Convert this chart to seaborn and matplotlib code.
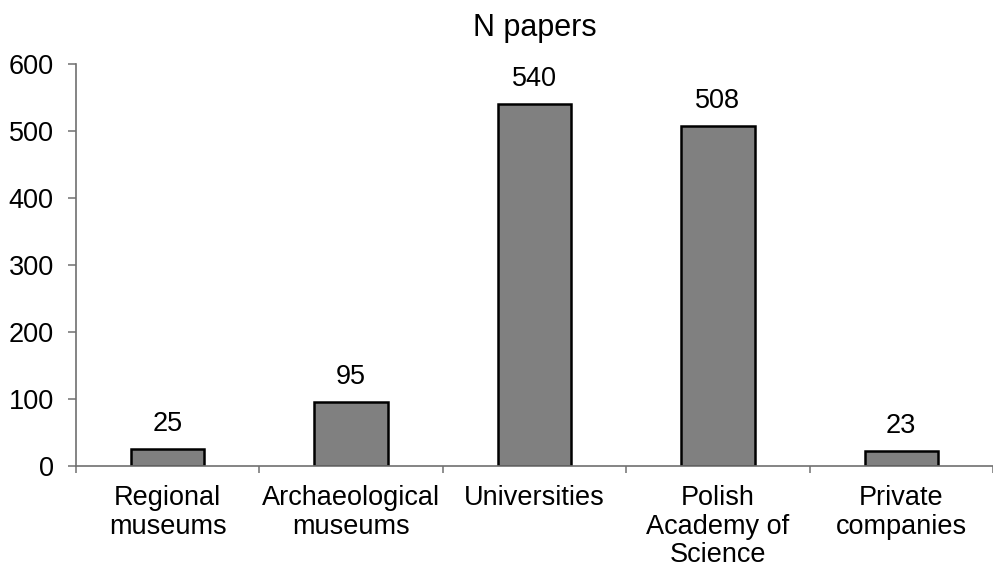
import matplotlib
matplotlib.use("Agg")
import matplotlib.pyplot as plt
import seaborn as sns
import pandas as pd
from matplotlib.ticker import FixedLocator, NullFormatter

categories = ["Regional\nmuseums", "Archaeological\nmuseums", "Universities",
              "Polish\nAcademy of\nScience", "Private\ncompanies"]
papers = [25, 95, 540, 508, 23]
y_ticks = [0, 100, 200, 300, 400, 500, 600]

sns.set_theme(style="white")
plt.rcParams["font.family"] = ["Liberation Sans", "DejaVu Sans"]

df = pd.DataFrame({"category": categories, "papers": papers})

fig = plt.figure(figsize=(9.93, 5.69), dpi=100)
ax = fig.add_axes([0.0765, 0.181, 0.9235, 0.7065])

sns.barplot(data=df, x="category", y="papers", ax=ax, color="#808080",
            saturation=1, width=0.40, edgecolor="black", linewidth=1.8)

for p, v in zip(ax.patches, papers):
    ax.text(p.get_x() + p.get_width() / 2, v + 18, f"{v}",
            ha="center", va="bottom", fontsize=19.5, color="black")

ax.set_ylim(0, 600)
ax.set_xlim(-0.5, len(categories) - 0.5)
ax.set_yticks(y_ticks)
ax.set_xlabel("")
ax.set_ylabel("")
ax.set_title("N papers", fontsize=22, pad=20, color="black")

for s in ["top", "right"]:
    ax.spines[s].set_visible(False)
for s in ["left", "bottom"]:
    ax.spines[s].set_color("#707070")
    ax.spines[s].set_linewidth(1.2)

ax.tick_params(axis="y", which="major", direction="out", length=6, width=1.1,
               color="#707070", labelsize=19.5, labelcolor="black", pad=10, left=True)
ax.tick_params(axis="x", which="major", length=0, labelsize=19.5,
               labelcolor="black", pad=13.5)
ax.xaxis.set_minor_locator(FixedLocator([i - 0.5 for i in range(len(categories) + 1)]))
ax.xaxis.set_minor_formatter(NullFormatter())
ax.tick_params(axis="x", which="minor", direction="out", length=5, width=1.1,
               color="#707070", bottom=True)
for lbl in ax.get_xticklabels():
    lbl.set_linespacing(1.14)
    lbl.set_verticalalignment("top")

fig.savefig("out.png", dpi=100)
